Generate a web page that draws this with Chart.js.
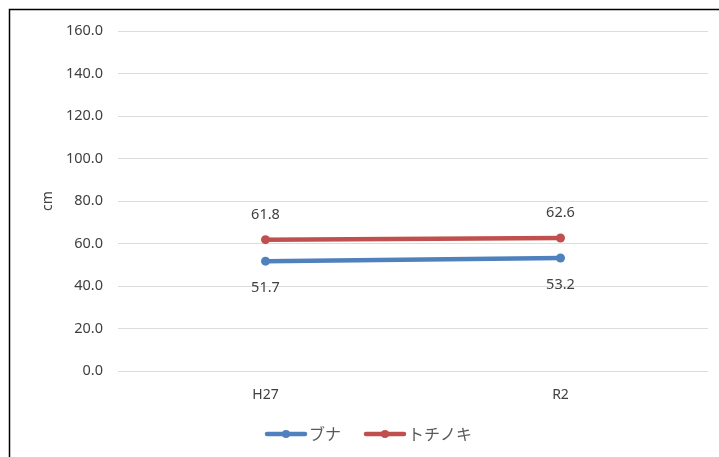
<!DOCTYPE html>
<html>
<head>
<meta charset="utf-8">
<script src="https://cdn.jsdelivr.net/npm/chart.js@4/dist/chart.umd.min.js"></script>
<style>
  html, body { margin: 0; padding: 0; background: #fff; }
  #wrap { position: relative; width: 719px; height: 457px; }
</style>
</head>
<body>
<div id="wrap"><canvas id="c" width="719" height="457"></canvas></div>
<script>
// Survey years and average values (cm) for each species
const years = ['H27', 'R2'];
const buna = [51.7, 53.2];
const tochinoki = [61.8, 62.6];
const seriesNames = ['ブナ', 'トチノキ'];
const yTicks = [0, 20, 40, 60, 80, 100, 120, 140, 160];

const NUM_FONT = '"Noto Sans", "Open Sans", sans-serif';
const JP_FONT = '"Noto Sans CJK JP", sans-serif';
const BLUE = '#4F81BD';
const RED = '#C0504D';

// Outer frame around the chart (left and top edges)
const framePlugin = {
  id: 'frame',
  beforeDraw(chart) {
    const ctx = chart.ctx;
    ctx.save();
    ctx.fillStyle = '#fff';
    ctx.fillRect(0, 0, chart.width, chart.height);
    ctx.strokeStyle = '#000';
    ctx.lineWidth = 1.5;
    ctx.beginPath();
    ctx.moveTo(9.5, chart.height + 2);
    ctx.lineTo(9.5, 9.5);
    ctx.lineTo(chart.width + 2, 9.5);
    ctx.stroke();
    ctx.restore();
  }
};

// Value labels: first series below its points, second series above
const valueLabels = {
  id: 'valueLabels',
  afterDatasetsDraw(chart) {
    const ctx = chart.ctx;
    ctx.save();
    ctx.font = '14.5px ' + NUM_FONT;
    ctx.fillStyle = '#404040';
    ctx.textAlign = 'center';
    ctx.textBaseline = 'middle';
    chart.data.datasets.forEach((ds, di) => {
      const meta = chart.getDatasetMeta(di);
      meta.data.forEach((pt, i) => {
        const dy = di === 0 ? 27 : -25;
        ctx.fillText(ds.data[i].toFixed(1), pt.x, pt.y + dy);
      });
    });
    ctx.restore();
  }
};

// Legend with line-and-marker swatches below the category labels
const lineLegend = {
  id: 'lineLegend',
  afterDraw(chart) {
    const ctx = chart.ctx;
    ctx.save();
    ctx.font = '16px ' + JP_FONT;
    const sw = 42, gapText = 2, gapItem = 23;
    let x = 265;
    const y = 434;
    chart.data.datasets.forEach(ds => {
      const color = ds.borderColor;
      ctx.strokeStyle = color;
      ctx.lineWidth = 4.5;
      ctx.lineCap = 'round';
      ctx.beginPath();
      ctx.moveTo(x + 2, y);
      ctx.lineTo(x + sw - 2, y);
      ctx.stroke();
      ctx.fillStyle = color;
      ctx.beginPath();
      ctx.arc(x + sw / 2, y, 4, 0, Math.PI * 2);
      ctx.fill();
      ctx.fillStyle = '#595959';
      ctx.textAlign = 'left';
      ctx.textBaseline = 'middle';
      ctx.fillText(ds.label, x + sw + gapText, y);
      x += sw + gapText + ctx.measureText(ds.label).width + gapItem;
    });
    ctx.restore();
  }
};

new Chart(document.getElementById('c'), {
  type: 'line',
  data: {
    labels: years,
    datasets: [
      { label: seriesNames[0], data: buna, borderColor: BLUE, backgroundColor: BLUE,
        borderWidth: 4.5, pointRadius: 4.5, pointBackgroundColor: BLUE, pointBorderWidth: 0, tension: 0 },
      { label: seriesNames[1], data: tochinoki, borderColor: RED, backgroundColor: RED,
        borderWidth: 4.5, pointRadius: 4.5, pointBackgroundColor: RED, pointBorderWidth: 0, tension: 0 }
    ]
  },
  options: {
    responsive: false,
    animation: false,
    devicePixelRatio: 1,
    layout: { padding: { left: 0, right: 11, top: 31, bottom: 0 } },
    plugins: { legend: { display: false }, tooltip: { enabled: false } },
    scales: {
      x: {
        offset: true,
        grid: { display: false },
        border: { display: false },
        ticks: { color: '#404040', font: { family: NUM_FONT, size: 14 }, padding: 8 },
        afterFit(s) { s.height = 86; }
      },
      y: {
        min: 0, max: 160,
        afterBuildTicks(s) { s.ticks = yTicks.map(v => ({ value: v })); },
        grid: { color: '#dcdcdc', lineWidth: 1, drawTicks: false },
        border: { display: false },
        ticks: { color: '#404040', font: { family: NUM_FONT, size: 14.5 }, padding: 15,
                 callback: v => Number(v).toFixed(1) },
        title: { display: true, text: 'cm', color: '#404040', font: { family: NUM_FONT, size: 14 },
                 padding: { top: 40, bottom: 0 } },
        afterFit(s) { s.width = 118; }
      }
    }
  },
  plugins: [framePlugin, valueLabels, lineLegend]
});
</script>
</body>
</html>
